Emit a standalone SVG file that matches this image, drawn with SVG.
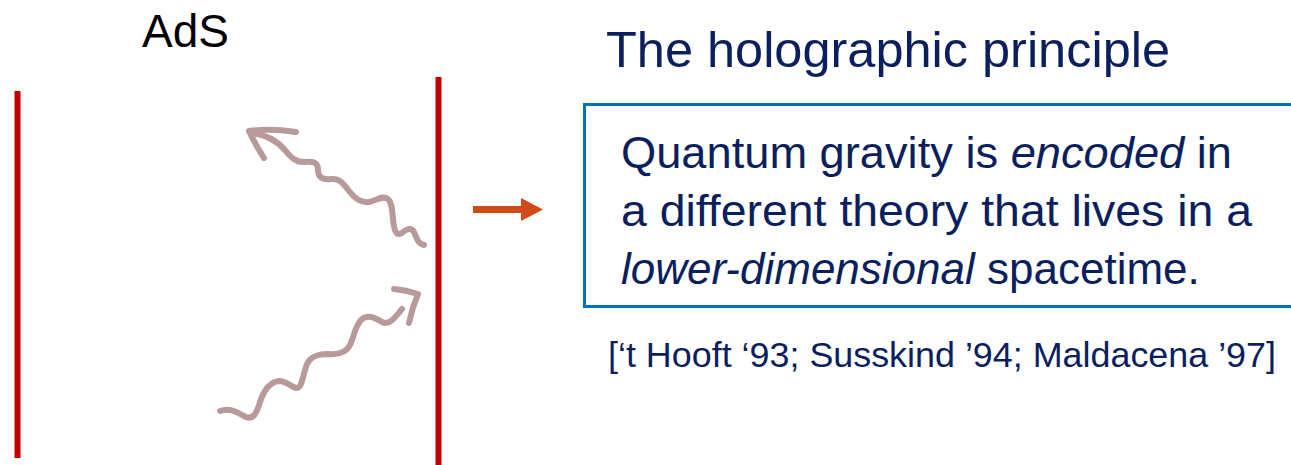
<svg xmlns="http://www.w3.org/2000/svg" width="1291" height="465" viewBox="0 0 1291 465">
  <defs>
    <style>
      .txt { font-family: "Liberation Sans", Arial, sans-serif; fill: #0b1f5e; }
      .wave { fill: none; stroke: #b99a9a; stroke-width: 6; stroke-linecap: round; stroke-linejoin: round; }
      .wall { stroke: #c00000; stroke-width: 6; }
    </style>
  </defs>
  <rect width="1291" height="465" fill="#ffffff"/>

  <g id="ads-label">
    <text x="142" y="47" font-family="Liberation Sans, Arial, sans-serif" font-size="46" fill="#000000">AdS</text>
  </g>

  <g id="left-wall">
    <line class="wall" x1="17.5" y1="91" x2="17.5" y2="458"/>
  </g>
  <g id="right-wall">
    <line class="wall" x1="438.5" y1="77" x2="438.5" y2="465"/>
  </g>

  <g id="outgoing-wave">
    <path class="wave" d="M251,133 C262,134 275,139 284,149 C290,156 295,163 305,162 C313,161 318,162 318,170 C318,177 322,180 331,179 C339,178 343,183 349,191 C355,199 361,203 369,202 C377,200 383,195 388,199 C393,203 392,216 394,226 C395,234 398,235 402,233 C406,229 411,227 414,232 C417,238 417,243 424,245"/>
    <path class="wave" d="M296,132 Q270,128 249,131 Q256,146 264,158"/>
  </g>

  <g id="incoming-wave">
    <path class="wave" d="M220,411 C230,407 238,413 246,417 C254,420 257,412 260,402 C264,390 270,382 279,381 C287,381 292,388 297,388 C302,388 303,374 307,364 C311,356 318,354 328,354 C338,355 346,353 350,345 C354,337 355,325 362,319 C368,314 376,318 382,322 C390,326 396,316 402,309"/>
    <path class="wave" d="M394,289 Q406,290 418,294 Q412,308 409,323"/>
  </g>

  <g id="connectors">
    <path d="M473,206 L521,206 L521,198 L543,209.5 L521,221 L521,213 L473,213 Z" fill="#d14a1a"/>
  </g>

  <g id="title">
    <text class="txt" x="606" y="67" font-size="50" textLength="564" lengthAdjust="spacingAndGlyphs">The holographic principle</text>
  </g>

  <g id="principle-box">
    <rect x="584.5" y="104.5" width="720" height="202" fill="none" stroke="#0070c0" stroke-width="3"/>
    <text class="txt" x="621" y="168" font-size="44" textLength="611" lengthAdjust="spacingAndGlyphs">Quantum gravity is <tspan font-style="italic">encoded</tspan> in</text>
    <text class="txt" x="621" y="226" font-size="44" textLength="631" lengthAdjust="spacingAndGlyphs">a different theory that lives in a</text>
    <text class="txt" x="621" y="284" font-size="44"><tspan font-style="italic">lower-dimensional</tspan> spacetime.</text>
  </g>

  <g id="citation">
    <text class="txt" x="608" y="367" font-size="35" textLength="668" lengthAdjust="spacingAndGlyphs">[‘t Hooft ‘93; Susskind ’94; Maldacena ’97]</text>
  </g>
</svg>
